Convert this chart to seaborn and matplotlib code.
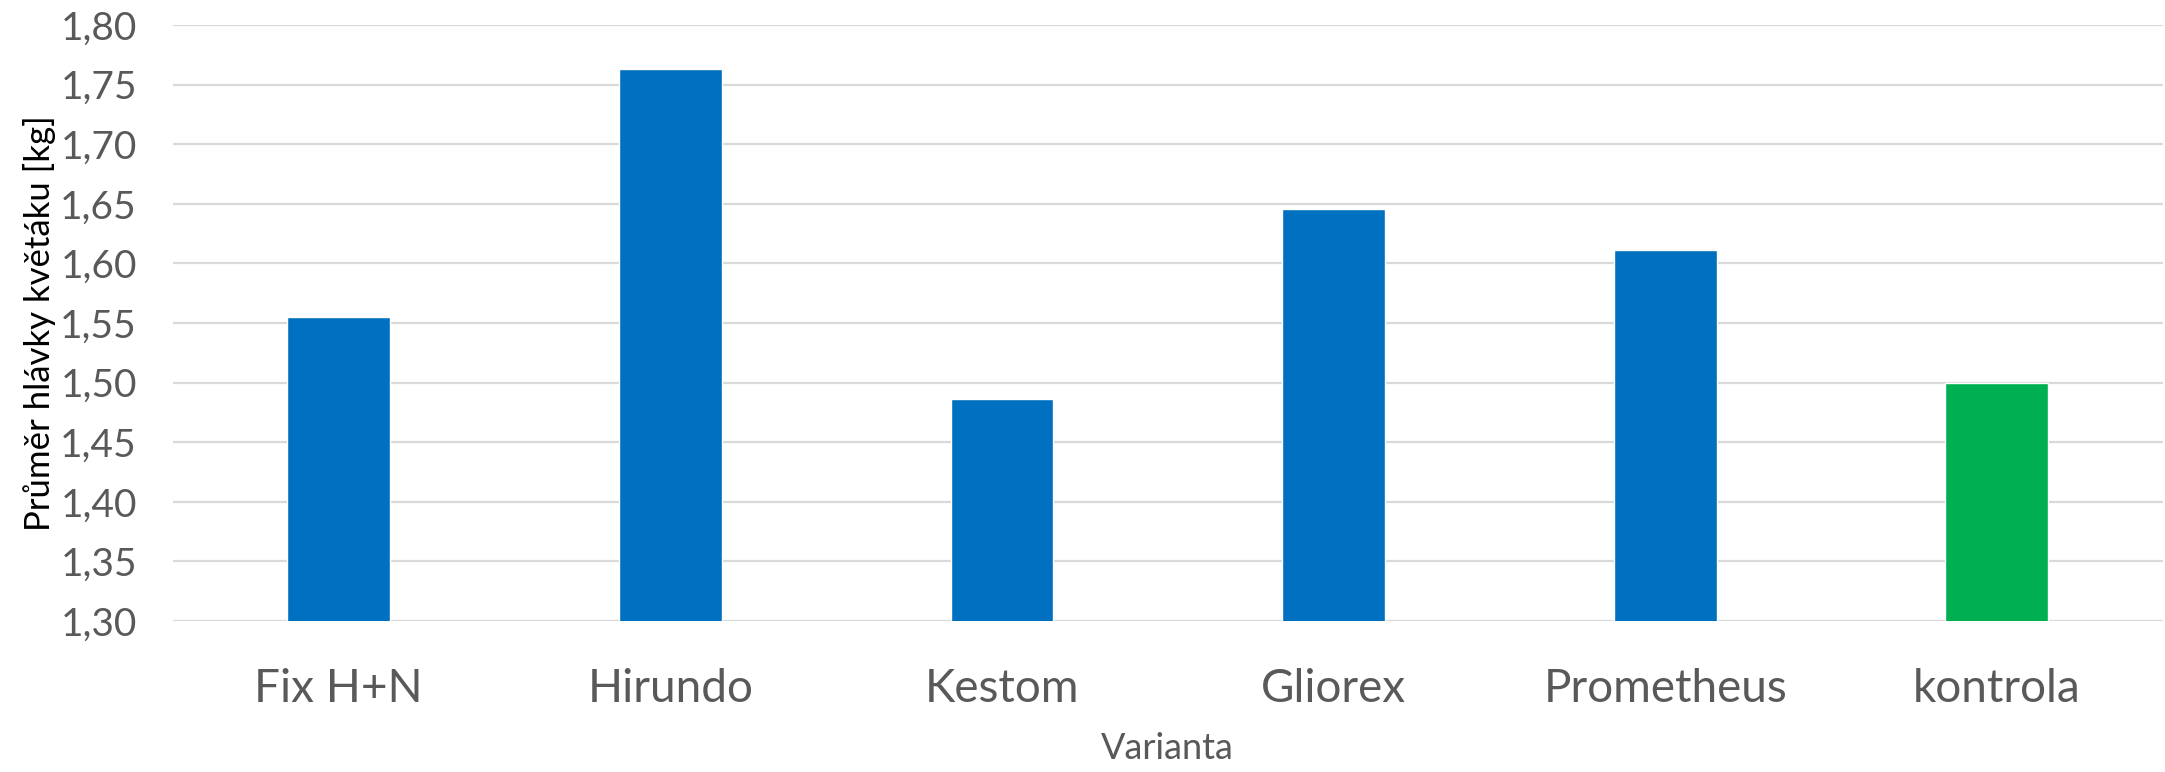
import matplotlib
matplotlib.use("Agg")
import matplotlib.pyplot as plt
import seaborn as sns
import pandas as pd
from matplotlib.ticker import FuncFormatter

categories = ["Fix H+N", "Hirundo", "Kestom", "Gliorex", "Prometheus", "kontrola"]
values = [1.555, 1.763, 1.486, 1.646, 1.611, 1.500]
bar_colors = ["#0070C0", "#0070C0", "#0070C0", "#0070C0", "#0070C0", "#00B050"]
y_ticks = [1.30, 1.35, 1.40, 1.45, 1.50, 1.55, 1.60, 1.65, 1.70, 1.75, 1.80]
x_title = "Varianta"
y_title = "Průměr hlávky květáku [kg]"

sns.set_style("white")
plt.rcParams['font.family'] = ['Lato', 'DejaVu Sans']

df = pd.DataFrame({"Varianta": categories, "Hodnota": values})

fig = plt.figure(figsize=(21.65, 7.72), dpi=100)
ax = fig.add_axes([0.0799, 0.1956, 0.919, 0.7721])

sns.barplot(data=df, x="Varianta", y="Hodnota", hue="Varianta",
            palette=dict(zip(categories, bar_colors)), width=0.31,
            legend=False, ax=ax, saturation=1, zorder=3)

ax.set_ylim(1.30, 1.80)
ax.set_yticks(y_ticks)
ax.yaxis.set_major_formatter(FuncFormatter(lambda v, p: f"{v:.2f}".replace(".", ",")))
ax.grid(axis="y", color="#D9D9D9", linewidth=1.6, zorder=0)
ax.set_axisbelow(True)
for s in ax.spines.values():
    s.set_visible(False)

ax.tick_params(axis="y", length=0, pad=26, labelsize=28, labelcolor="#595959")
ax.tick_params(axis="x", length=0, pad=34, labelsize=33, labelcolor="#595959")

ax.set_xlabel(x_title, fontsize=26, color="#595959", labelpad=16)
ax.set_ylabel(y_title, fontsize=25, color="#000000", labelpad=3)

fig.savefig("out.png", dpi=100)
